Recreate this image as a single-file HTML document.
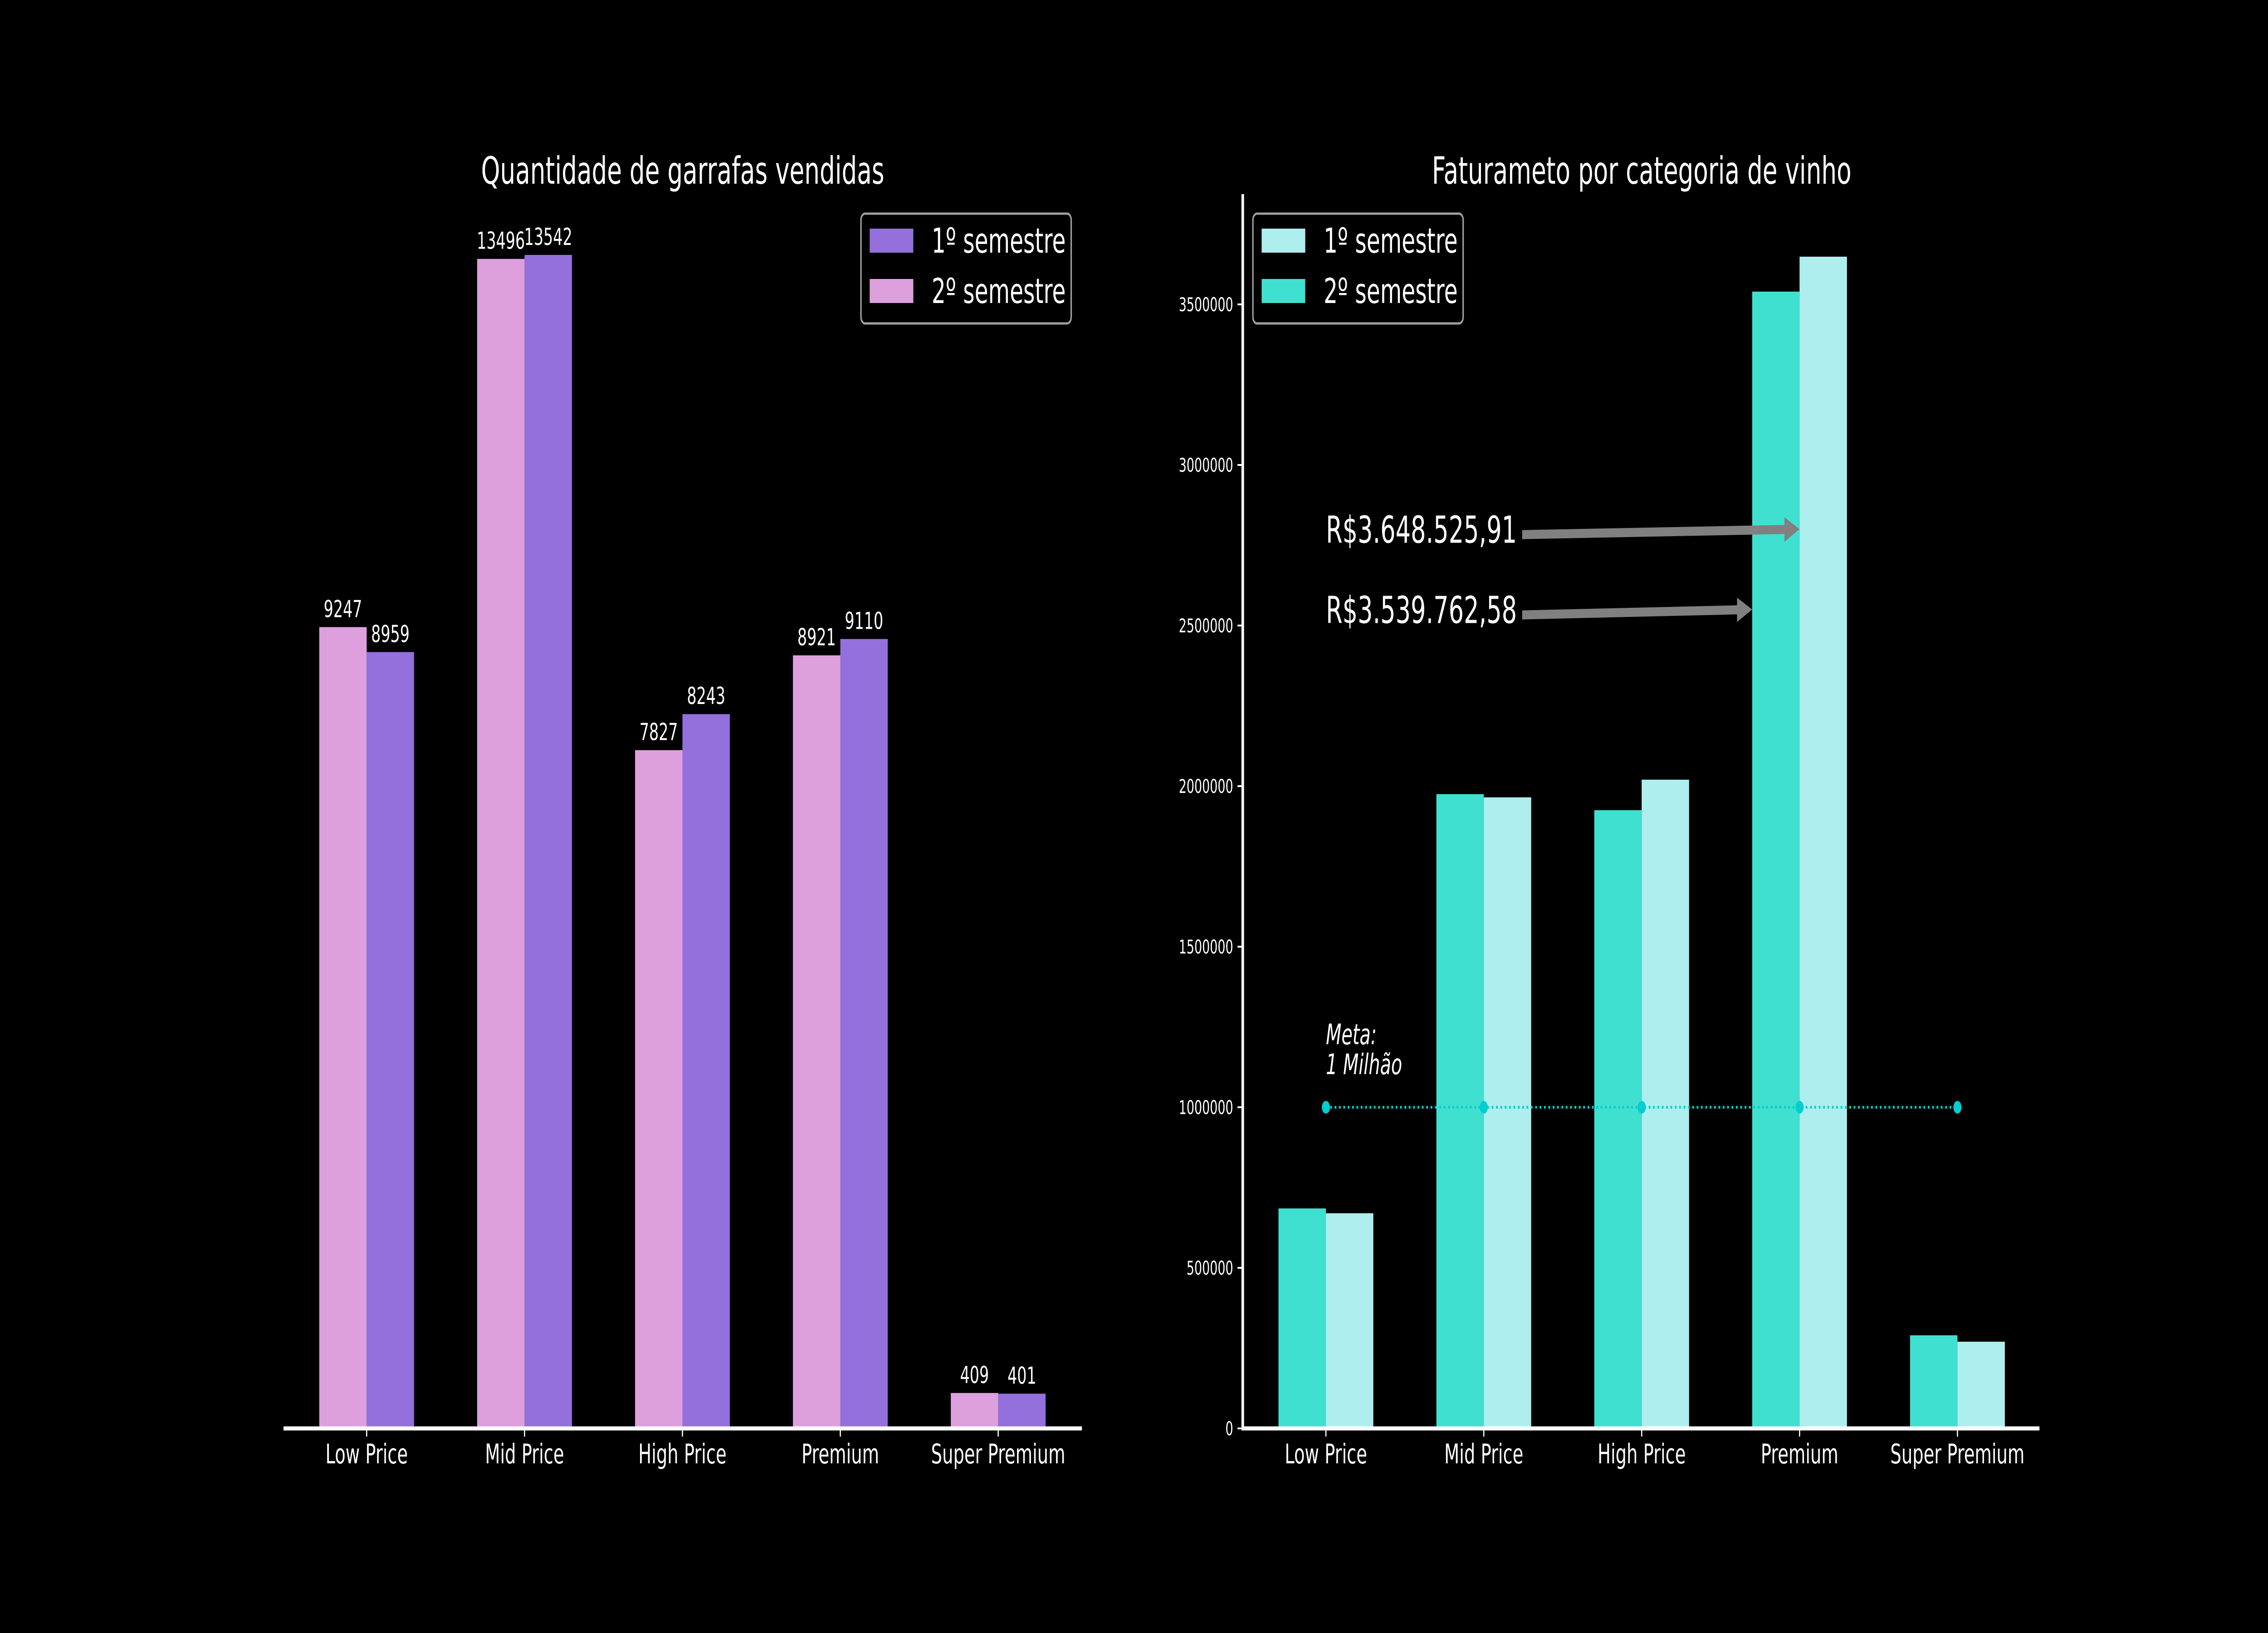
<!DOCTYPE html>
<html><head><meta charset="utf-8"><style>
html,body{margin:0;padding:0;background:#000;width:100%;height:100%;overflow:hidden;}
svg{display:block;width:100vw;height:100vh;font-family:"DejaVu Sans","Liberation Sans",sans-serif;}
</style></head><body>
<svg id="c" viewBox="0 0 7800 3600" preserveAspectRatio="none" xmlns="http://www.w3.org/2000/svg">
<rect width="7800" height="3600" fill="#000"/>
</svg>
<script>
const categories = ["Low Price","Mid Price","High Price","Premium","Super Premium"];
const qtySem1 = [8959,13542,8243,9110,401];
const qtySem2 = [9247,13496,7827,8921,409];
const revSem1 = [670000,1965000,2020000,3648526,270000];
const revSem2 = [685000,1975000,1925000,3539763,290000];
const revTicks = [0,500000,1000000,1500000,2000000,2500000,3000000,3500000];
const metaValue = 1000000;
const annotTexts = ["R$3.648.525,91","R$3.539.762,58"];
const annotTargets = [2800000,2550000];

const NS="http://www.w3.org/2000/svg";
const svg=document.getElementById('c');
function mk(tag,attrs,parent){const e=document.createElementNS(NS,tag);for(const k in attrs)e.setAttribute(k,attrs[k]);(parent||svg).appendChild(e);return e;}
const base=3149, step=543, bw=163;
const xL=i=>1261+i*step;
const xR=i=>4560+i*step;
const yL=v=>base-v*0.19104;
const yR=v=>base-v*0.000708;

// ---- Left chart ----
const gL=mk('g',{});


let t=mk('text',{x:2348,y:405,'font-size':83,fill:'#fff','text-anchor':'middle'},gL);
t.textContent='Quantidade de garrafas vendidas';


categories.forEach((c,i)=>{
  const cx=xL(i);
  let r=mk('rect',{x:cx-bw,y:yL(qtySem2[i]),width:bw,height:base-yL(qtySem2[i]),fill:'#dda0dd'},gL);
  
  
  r=mk('rect',{x:cx,y:yL(qtySem1[i]),width:bw,height:base-yL(qtySem1[i]),fill:'#9370db'},gL);
  
  
  let l=mk('text',{x:cx-bw/2,y:yL(qtySem2[i])-22,'font-size':52,fill:'#fff','text-anchor':'middle'},gL);
  l.textContent=qtySem2[i];
  
  
  l=mk('text',{x:cx+bw/2,y:yL(qtySem1[i])-22,'font-size':52,fill:'#fff','text-anchor':'middle'},gL);
  l.textContent=qtySem1[i];
  
  
  let tk=mk('line',{x1:cx,x2:cx,y1:base,y2:base+18,stroke:'#fff','stroke-width':4},gL);
  
  
  let tl=mk('text',{x:cx,y:3226,'font-size':60,fill:'#fff','text-anchor':'middle'},gL);
  tl.textContent=c;
  
  
});
let sp=mk('line',{x1:975,x2:3721,y1:base,y2:base,stroke:'#fff','stroke-width':9},gL);



function legend(x,colors,name){
  const g=mk('g',{});
  
  
  mk('rect',{x:x,y:471,width:723,height:242,rx:14,fill:'#000',stroke:'#a0a0a0','stroke-width':5},g);
  ['1º semestre','2º semestre'].forEach((s,k)=>{
    let p=mk('rect',{x:x+30,y:504+k*111,width:150,height:53,fill:colors[k]},g);
    
    
    let tx=mk('text',{x:x+243,y:557+k*111,'font-size':76,fill:'#fff'},g);
    tx.textContent=s;
    
    
  });
}
legend(2961,['#9370db','#dda0dd'],'left-legend');

// ---- Right chart ----
const gR=mk('g',{});


t=mk('text',{x:5646,y:405,'font-size':83,fill:'#fff','text-anchor':'middle'},gR);
t.textContent='Faturameto por categoria de vinho';


revTicks.forEach(v=>{
  let tk=mk('line',{x1:4256,x2:4274,y1:yR(v),y2:yR(v),stroke:'#fff','stroke-width':4},gR);
  
  
  let tl=mk('text',{x:4241,y:yR(v)+15,'font-size':42,fill:'#fff','text-anchor':'end'},gR);
  tl.textContent=v;
  
  
});
categories.forEach((c,i)=>{
  const cx=xR(i);
  let r=mk('rect',{x:cx-bw,y:yR(revSem2[i]),width:bw,height:base-yR(revSem2[i]),fill:'#40e0d0'},gR);
  
  
  r=mk('rect',{x:cx,y:yR(revSem1[i]),width:bw,height:base-yR(revSem1[i]),fill:'#afeeee'},gR);
  
  
  let tk=mk('line',{x1:cx,x2:cx,y1:base,y2:base+18,stroke:'#fff','stroke-width':4},gR);
  
  
  let tl=mk('text',{x:cx,y:3226,'font-size':60,fill:'#fff','text-anchor':'middle'},gR);
  tl.textContent=c;
  
  
});
let ml=mk('line',{x1:xR(0),x2:xR(4),y1:yR(metaValue),y2:yR(metaValue),stroke:'#00ced1','stroke-width':6,'stroke-dasharray':'6 9'},gR);


categories.forEach((c,i)=>{
  let d=mk('circle',{cx:xR(i),cy:yR(metaValue),r:14,fill:'#00ced1'},gR);
  
  
});
let mt=mk('text',{x:xR(0),y:2302,'font-size':62,fill:'#fff','font-style':'italic'},gR);


let ts1=mk('tspan',{x:xR(0),dy:0},mt);ts1.textContent='Meta:';
let ts2=mk('tspan',{x:xR(0),dy:66},mt);ts2.textContent='1 Milhão';
annotTexts.forEach((s,k)=>{
  const ty=yR(annotTargets[k]);
  const tipX = k===0 ? xR(3) : xR(3)-bw;
  let tx=mk('text',{x:xR(0),y:ty+30,'font-size':82,fill:'#fff'},gR);
  tx.textContent=s;
  
  
  const sx=5235, sy=ty+12, hx=tipX-52;
  const hy=sy+(ty-sy)*(hx-sx)/(tipX-sx);
  let a=mk('polygon',{points:`${sx},${sy-10} ${hx},${hy-10} ${hx},${hy-27} ${tipX},${ty} ${hx},${hy+27} ${hx},${hy+10} ${sx},${sy+10}`,fill:'#808080'},gR);
  
  
});
sp=mk('line',{x1:4274,x2:4274,y1:428,y2:base+4,stroke:'#fff','stroke-width':9},gR);


sp=mk('line',{x1:4270,x2:7014,y1:base,y2:base,stroke:'#fff','stroke-width':9},gR);


legend(4309,['#afeeee','#40e0d0'],'right-legend');
</script>
</body></html>
